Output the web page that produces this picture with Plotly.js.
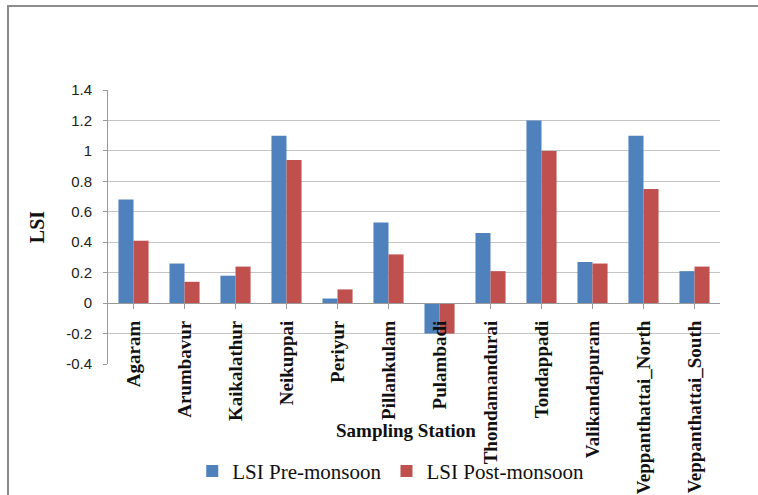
<!DOCTYPE html>
<html>
<head>
<meta charset="utf-8">
<script src="https://cdn.plot.ly/plotly-3.0.1.min.js"></script>
<style>
  html, body { margin: 0; padding: 0; background: #fff; }
  #wrap { position: relative; width: 758px; height: 495px; overflow: hidden; }
  #chart { position: absolute; left: 0; top: 0; width: 758px; height: 495px; }
  #frame { position: absolute; left: 7px; top: 5px; width: 800px; height: 600px;
           border-top: 2px solid #8c8c8c; border-left: 2px solid #8c8c8c; pointer-events: none; }
</style>
</head>
<body>
<div id="wrap">
  <div id="chart"></div>
  <div id="frame"></div>
</div>
<script>
// Langelier Saturation Index per sampling station
const stations = ['Agaram', 'Arumbavur', 'Kaikalathur', 'Neikuppai', 'Periyur', 'Pillankulam',
  'Pulambadi', 'Thondamandurai', 'Tondappadi', 'Valikandapuram', 'Veppanthattai_North', 'Veppanthattai_South'];
const lsiPre  = [0.68, 0.26, 0.18, 1.10, 0.03, 0.53, -0.20, 0.46, 1.20, 0.27, 1.10, 0.21];
const lsiPost = [0.41, 0.14, 0.24, 0.94, 0.09, 0.32, -0.20, 0.21, 1.00, 0.26, 0.75, 0.24];
const yTicks = [-0.4, -0.2, 0, 0.2, 0.4, 0.6, 0.8, 1, 1.2, 1.4];

const yMin = -0.4, yMax = 1.4;
// category axis crosses the value axis at zero
const zeroPos = (0 - yMin) / (yMax - yMin);

const traces = [
  { type: 'bar', name: 'LSI Pre-monsoon', x: stations, y: lsiPre,
    marker: { color: '#4F81BD' }, hoverinfo: 'x+y' },
  { type: 'bar', name: 'LSI Post-monsoon', x: stations, y: lsiPost,
    marker: { color: '#C0504D' }, hoverinfo: 'x+y' }
];

const serif = 'Times New Roman, Liberation Serif, serif';

const layout = {
  width: 758, height: 495,
  margin: { l: 108, r: 38, t: 90, b: 131, autoexpand: false },
  font: { family: serif, color: '#111' },
  paper_bgcolor: '#ffffff', plot_bgcolor: '#ffffff',
  barmode: 'group', bargap: 0.41, bargroupgap: 0,
  showlegend: true,
  legend: { orientation: 'h', x: 0.462, xanchor: 'center', y: -0.392, yanchor: 'middle',
            bgcolor: 'rgba(0,0,0,0)',
            font: { family: serif, size: 21, color: '#111', weight: 'normal' },
            itemwidth: 30, tracegroupgap: 0 },
  xaxis: {
    type: 'category', categoryorder: 'array', categoryarray: stations,
    anchor: 'free', position: zeroPos, automargin: false,
    showline: true, linecolor: '#9a9a9a', linewidth: 1,
    ticks: 'outside', ticklen: 5, tickcolor: '#9a9a9a',
    tickangle: -90, ticklabelstandoff: 4,
    tickfont: { family: serif, size: 19, color: '#111', weight: 'bold' },
    showgrid: false, zeroline: false
  },
  yaxis: {
    range: [yMin, yMax], tickvals: yTicks, ticktext: yTicks.map(String), automargin: false,
    showline: true, linecolor: '#9a9a9a', linewidth: 1,
    ticks: 'outside', ticklen: 4, tickcolor: '#9a9a9a', ticklabelstandoff: 8,
    tickfont: { family: 'Liberation Sans', size: 15, color: '#222' },
    showgrid: true, gridcolor: '#c4c4c4', gridwidth: 1, zeroline: false,
    title: { text: 'LSI', font: { family: serif, size: 20, color: '#111', weight: 'bold' }, standoff: 16 }
  },
  annotations: [
    { text: 'Sampling Station', xref: 'paper', yref: 'paper', x: 0.487, y: -0.241,
      xanchor: 'center', yanchor: 'middle', showarrow: false,
      font: { family: serif, size: 19, color: '#111', weight: 'bold' } }
  ]
};

Plotly.newPlot('chart', traces, layout, { displayModeBar: false, staticPlot: true });
</script>
</body>
</html>
